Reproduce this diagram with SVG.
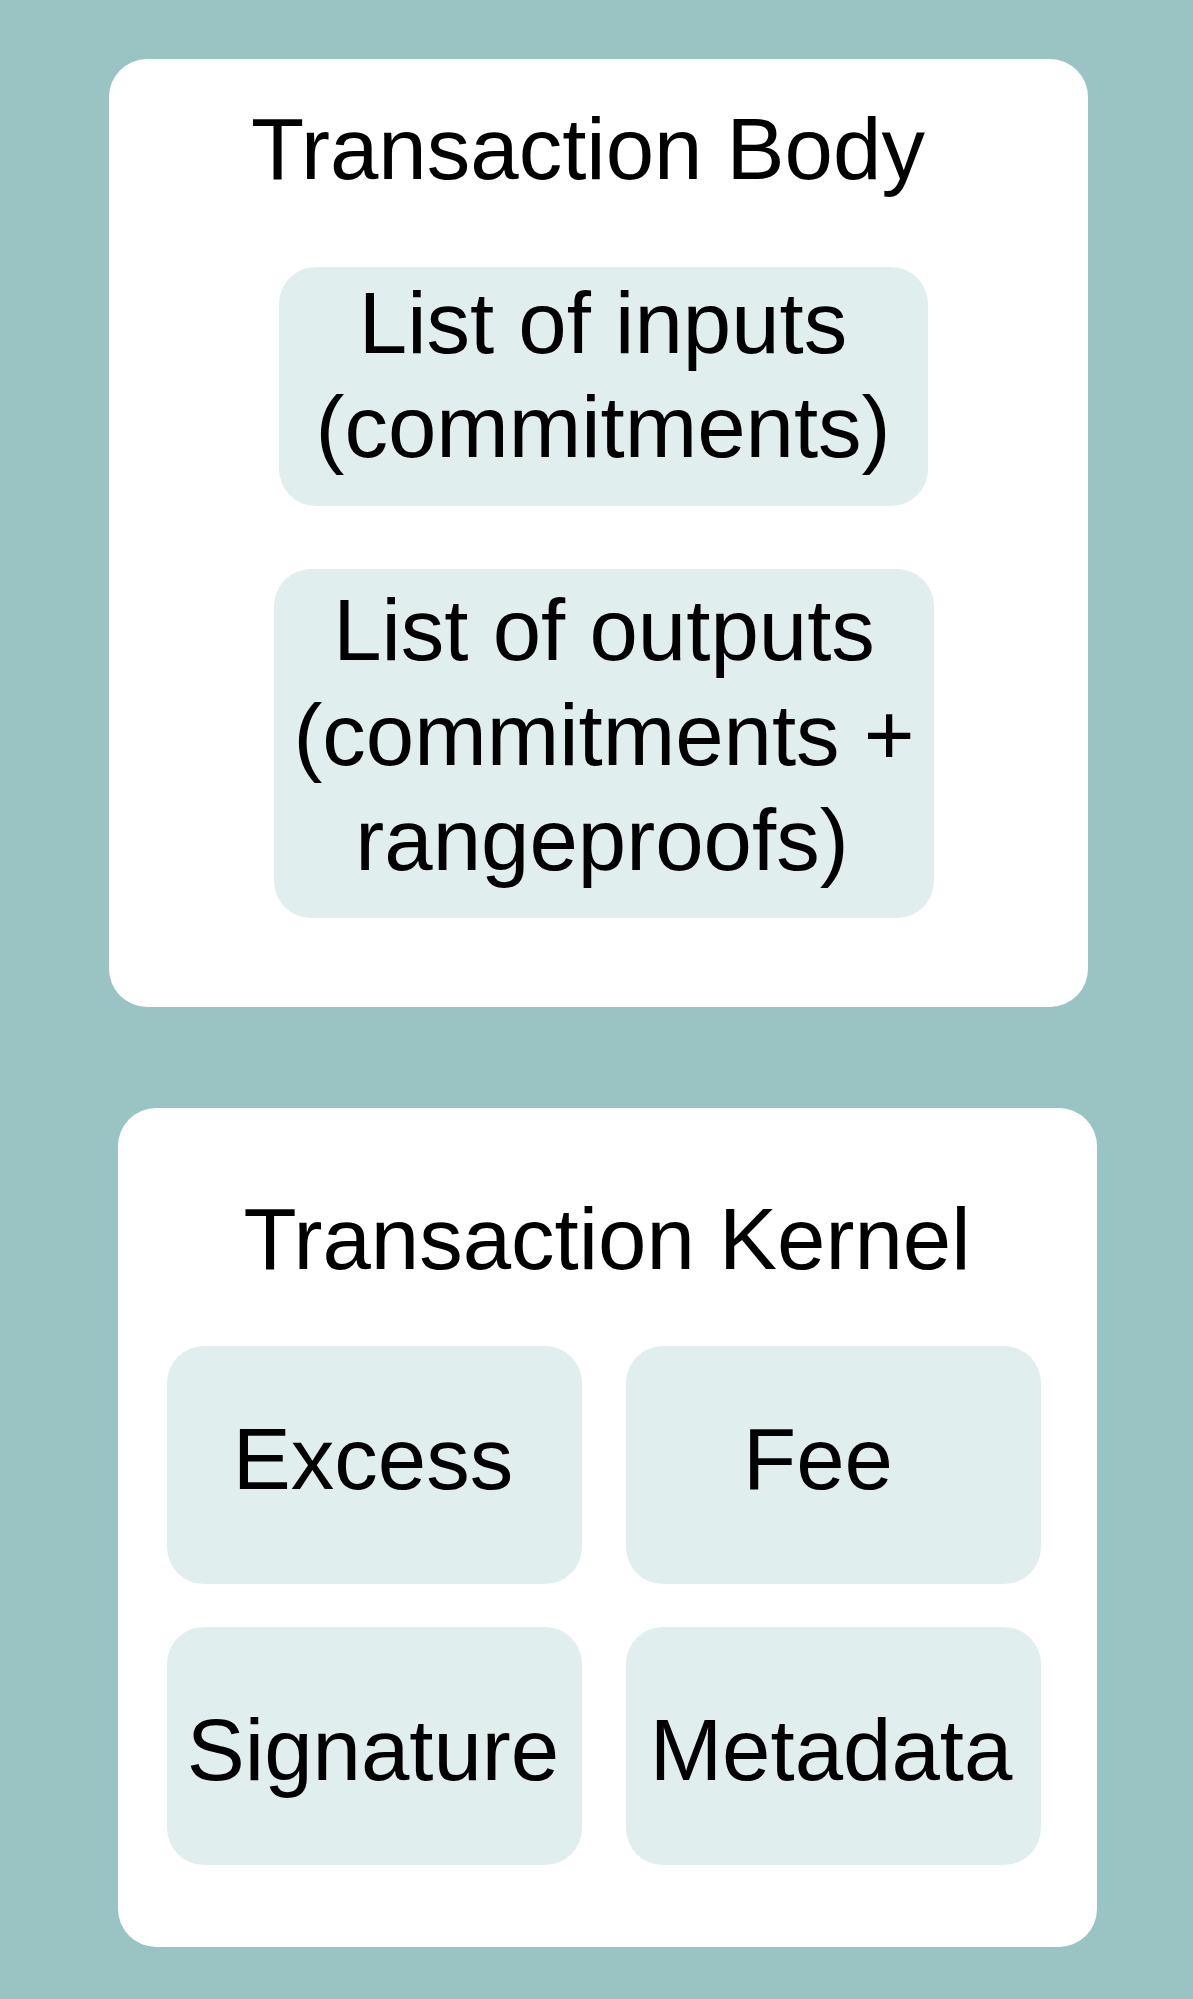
<svg xmlns="http://www.w3.org/2000/svg" width="1193" height="1999" viewBox="0 0 1193 1999">
<style>
.panel{fill:#ffffff}
.cell{fill:#e1eeee}
.t{font-family:"Liberation Sans",Arial,Helvetica,sans-serif;font-size:87px;fill:#000;text-anchor:middle}
</style>
<rect x="0" y="0" width="1193" height="1999" fill="#9ac4c4"/>
<g id="transaction-body">
<rect class="panel" x="109" y="59" width="979" height="948" rx="38" ry="38"/>
<text class="t" x="588" y="179">Transaction Body</text>
</g>
<g id="inputs">
<rect class="cell" x="279" y="267" width="649" height="239" rx="37" ry="37"/>
<text class="t" x="603" y="353">List of inputs</text>
<text class="t" x="603" y="457">(commitments)</text>
</g>
<g id="outputs">
<rect class="cell" x="274" y="569" width="660" height="349" rx="37" ry="37"/>
<text class="t" x="604" y="660">List of outputs</text>
<text class="t" x="604" y="765">(commitments +</text>
<text class="t" x="602" y="870">rangeproofs)</text>
</g>
<g id="transaction-kernel">
<rect class="panel" x="118" y="1108" width="979" height="839" rx="38" ry="38"/>
<text class="t" x="607" y="1269">Transaction Kernel</text>
</g>
<g id="excess">
<rect class="cell" x="167" y="1346" width="415" height="238" rx="37" ry="37"/>
<text class="t" x="373" y="1489">Excess</text>
</g>
<g id="fee">
<rect class="cell" x="626" y="1346" width="415" height="238" rx="37" ry="37"/>
<text class="t" x="818" y="1489">Fee</text>
</g>
<g id="signature">
<rect class="cell" x="167" y="1627" width="415" height="238" rx="37" ry="37"/>
<text class="t" x="373" y="1780">Signature</text>
</g>
<g id="metadata">
<rect class="cell" x="626" y="1627" width="415" height="238" rx="37" ry="37"/>
<text class="t" x="831" y="1780">Metadata</text>
</g>
<g id="connectors"></g>
</svg>
